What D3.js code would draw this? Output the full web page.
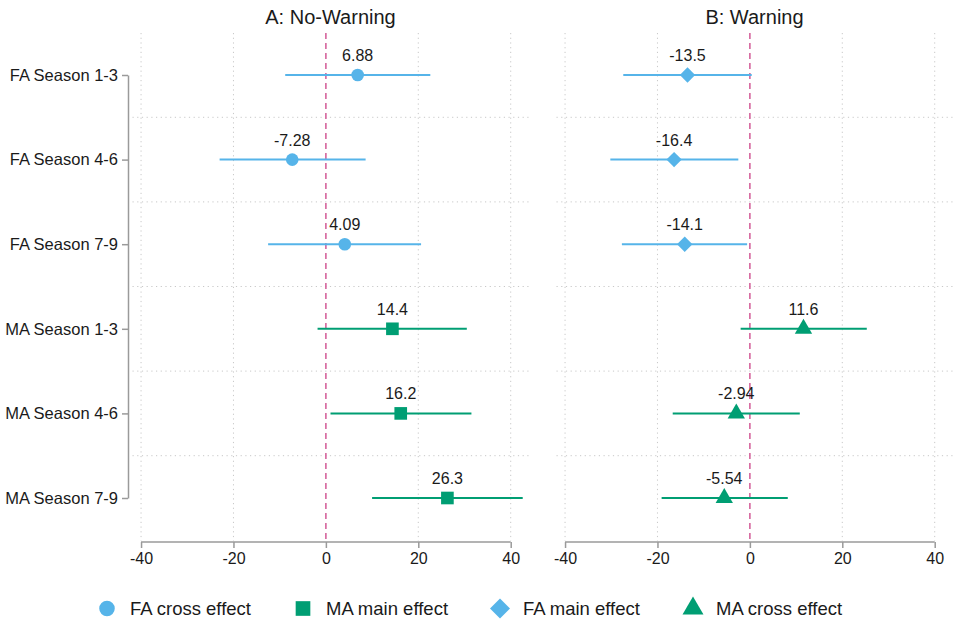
<!DOCTYPE html>
<html><head><meta charset="utf-8">
<script src="https://cdn.jsdelivr.net/npm/d3@7/dist/d3.min.js"></script>
<style>
body{margin:0;background:#fff;}
svg text{font-family:"Liberation Sans",Arial,Helvetica,sans-serif;fill:#1a1a1a;}
</style></head>
<body><svg id="c" width="955" height="622"></svg>
<script>
const rows = ["FA Season 1-3","FA Season 4-6","FA Season 7-9","MA Season 1-3","MA Season 4-6","MA Season 7-9"];
const panelTitles = ["A: No-Warning","B: Warning"];
const ticks = [-40,-20,0,20,40];
// Panel A: FA cross effect (rows 1-3), MA main effect (rows 4-6)
const aEst = [6.88,-7.28,4.09,14.4,16.2,26.3];
const aLo  = [-8.8,-23.0,-12.5,-1.8,1.0,10.0];
const aHi  = [22.6,8.6,20.6,30.5,31.5,42.6];
// Panel B: FA main effect (rows 1-3), MA cross effect (rows 4-6)
const bEst = [-13.5,-16.4,-14.1,11.6,-2.94,-5.54];
const bLo  = [-27.4,-30.2,-27.7,-2.0,-16.7,-19.1];
const bHi  = [0.4,-2.5,-0.6,25.3,10.8,8.2];
const seriesNames = ["FA cross effect","MA main effect","FA main effect","MA cross effect"];

const blue="#56B4E9", green="#009E73";
const svg = d3.select("#c");
const plotTop=33, plotBottom=541;
const y = d3.scalePoint().domain(rows).range([75,498]);
const step = y.step();

const fmt = v => d3.format(".3g")(v).replace("\u2212","-");

const symTypes = {
  circle: d3.symbol().type(d3.symbolCircle).size(125),
  square: d3.symbol().type(d3.symbolSquare).size(160),
  diamond: d3.symbol().type(d3.symbolSquare).size(118),
  triangle: d3.symbol().type(d3.symbolTriangle).size(130)
};

const panels = [
  {x0:129.5, est:aEst, lo:aLo, hi:aHi, shapes:["circle","square"], cols:[blue,green]},
  {x0:553.5, est:bEst, lo:bLo, hi:bHi, shapes:["diamond","triangle"], cols:[blue,green]}
];

panels.forEach((p,pi)=>{
  const x = d3.scaleLinear().domain([-42.5,44.5]).range([p.x0,p.x0+402]);
  const g = svg.append("g");
  for(let i=0;i<rows.length-1;i++){
    const yy = y(rows[i])+step/2;
    g.append("line").attr("x1",p.x0+3).attr("x2",p.x0+402).attr("y1",yy).attr("y2",yy)
      .attr("stroke","#c8c8c8").attr("stroke-width",1).attr("stroke-dasharray","1.2,3.5");
  }
  ticks.filter(t=>t!==0).forEach(t=>{
    g.append("line").attr("x1",x(t)).attr("x2",x(t)).attr("y1",plotTop).attr("y2",plotBottom)
      .attr("stroke","#c8c8c8").attr("stroke-width",1).attr("stroke-dasharray","1.2,3.5");
  });
  g.append("line").attr("x1",x(0)).attr("x2",x(0)).attr("y1",plotTop).attr("y2",plotBottom)
    .attr("stroke","#d5649c").attr("stroke-width",1.6).attr("stroke-dasharray","6,4");
  g.append("text").attr("x",p.x0+201).attr("y",24).attr("text-anchor","middle")
    .style("font-size","20px").text(panelTitles[pi]);
  const ax = g.append("g").attr("transform",`translate(0,${plotBottom+1})`)
    .call(d3.axisBottom(x).tickValues(ticks).tickSize(6).tickFormat(d=>String(d)));
  ax.select(".domain").remove();
  ax.selectAll(".tick line").attr("stroke","#9a9a9a").attr("stroke-width",1.5);
  ax.selectAll(".tick text").style("font-size","16px").attr("y",8).attr("dy","0.9em").attr("fill","#1a1a1a");
  ax.append("line").attr("x1",x(-40)).attr("x2",x(40)).attr("y1",0).attr("y2",0)
    .attr("stroke","#9a9a9a").attr("stroke-width",1.5);
  rows.forEach((r,i)=>{
    const k = i<3?0:1;
    const col = p.cols[k];
    g.append("line").attr("x1",x(p.lo[i])).attr("x2",x(p.hi[i])).attr("y1",y(r)).attr("y2",y(r))
      .attr("stroke",col).attr("stroke-width",2);
    const shp = p.shapes[k];
    g.append("path").attr("d",symTypes[shp]())
      .attr("transform",`translate(${x(p.est[i])},${y(r)})${shp==="diamond"?" rotate(45)":""}`)
      .attr("fill",col);
    g.append("text").attr("x",x(p.est[i])).attr("y",y(r)-14).attr("text-anchor","middle")
      .style("font-size","16px").text(fmt(p.est[i]));
  });
});

const ay = svg.append("g").attr("transform","translate(128,0)")
  .call(d3.axisLeft(y).tickSize(6).tickSizeOuter(0));
ay.select(".domain").attr("stroke","#9a9a9a").attr("stroke-width",1.5);
ay.selectAll(".tick line").attr("stroke","#9a9a9a").attr("stroke-width",1.5);
ay.selectAll(".tick text").style("font-size","16.5px").attr("x",-10).attr("fill","#1a1a1a");

const legX = [107,303,500,693];
const legShapes = [["circle",blue,190],["square",green,215],["diamond",blue,200],["triangle",green,190]];
seriesNames.forEach((n,i)=>{
  const [shp,col,sz] = legShapes[i];
  const base = shp==="circle"?d3.symbolCircle:shp==="triangle"?d3.symbolTriangle:d3.symbolSquare;
  svg.append("path").attr("d",d3.symbol().type(base).size(sz)())
    .attr("transform",`translate(${legX[i]},608.5)${shp==="diamond"?" rotate(45)":""}`)
    .attr("fill",col);
  svg.append("text").attr("x",legX[i]+23).attr("y",615).style("font-size","18.5px").text(n);
});
</script></body></html>
